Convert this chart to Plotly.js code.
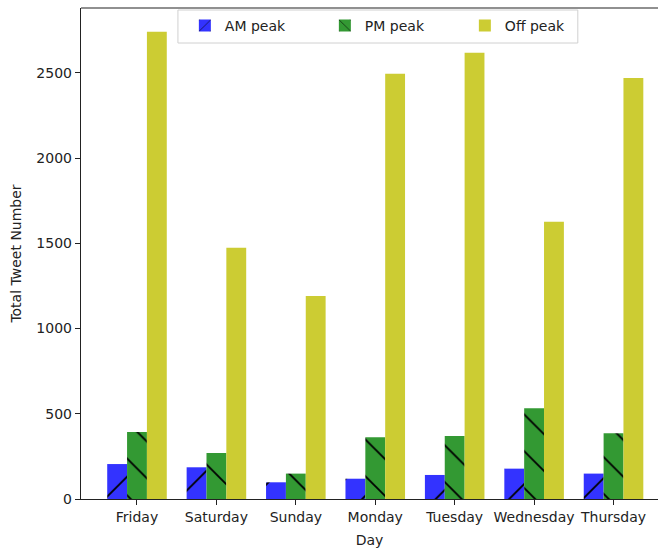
<!DOCTYPE html>
<html>
<head>
<meta charset="utf-8">
<script src="https://cdn.plot.ly/plotly-3.0.1.min.js"></script>
<style>html,body{margin:0;padding:0;background:#fff;overflow:hidden}</style>
</head>
<body>
<div id="chart" style="width:658px;height:552px"></div>
<script>
const days = ["Friday","Saturday","Sunday","Monday","Tuesday","Wednesday","Thursday"];
const amPeak = [205, 186, 98, 119, 141, 178, 149];
const pmPeak = [393, 270, 149, 362, 370, 532, 385];
const offPeak = [2740, 1473, 1191, 2495, 2617, 1626, 2470];
const yTicks = [0, 500, 1000, 1500, 2000, 2500];

const font = {family: "DejaVu Sans", size: 14, color: "#222"};
function bar(name, vals, color, shape) {
  const m = {color: color, line: {width: 0}};
  if (shape) m.pattern = {shape: shape, fgcolor: "#000", fgopacity: 1, size: 26, solidity: 0.07, fillmode: "overlay"};
  return {type: "bar", name: name, x: days, y: vals, marker: m};
}
const data = [
  bar("AM peak", amPeak, "#3333ff", "/"),
  bar("PM peak", pmPeak, "#339933", "\\"),
  bar("Off peak", offPeak, "#cccc33", "")
];
const layout = {
  width: 658, height: 552,
  margin: {l: 81, r: 0, t: 8, b: 53},
  paper_bgcolor: "#fff", plot_bgcolor: "#fff",
  font: font,
  barmode: "group", bargap: 0.25, bargroupgap: 0,
  showlegend: true,
  legend: {orientation: "h", x: 0.180, xanchor: "left", y: 0.996, yanchor: "top",
           bgcolor: "rgba(0,0,0,0)", borderwidth: 0,
           entrywidth: 95, entrywidthmode: "pixels", font: font},
  xaxis: {type: "category", range: [-0.705, 6.56], showgrid: false, zeroline: false,
          showline: true, linecolor: "#222", linewidth: 1.2, ticks: "outside", ticklen: 5,
          tickcolor: "#222", tickfont: font,
          title: {text: "Day", font: font, standoff: 11}},
  yaxis: {range: [0, 2880], tickvals: yTicks, showgrid: false, zeroline: false,
          showline: true, linecolor: "#222", linewidth: 1.2, ticks: "outside", ticklen: 5,
          tickcolor: "#222", tickfont: font,
          title: {text: "Total Tweet Number", font: font, standoff: 11}},
  shapes: [
    {type: "line", xref: "paper", yref: "paper", x0: 0, x1: 1, y0: 1, y1: 1,
     line: {color: "#222", width: 1.2}},
    {type: "rect", layer: "above", xref: "paper", yref: "paper", x0: 0.168, x1: 0.861, y0: 0.9287, y1: 0.9959,
     fillcolor: "rgba(255,255,255,0.85)", line: {color: "#d0d0d0", width: 1}}
  ]
};
Plotly.newPlot("chart", data, layout, {displayModeBar: false, staticPlot: true});
</script>
</body>
</html>
